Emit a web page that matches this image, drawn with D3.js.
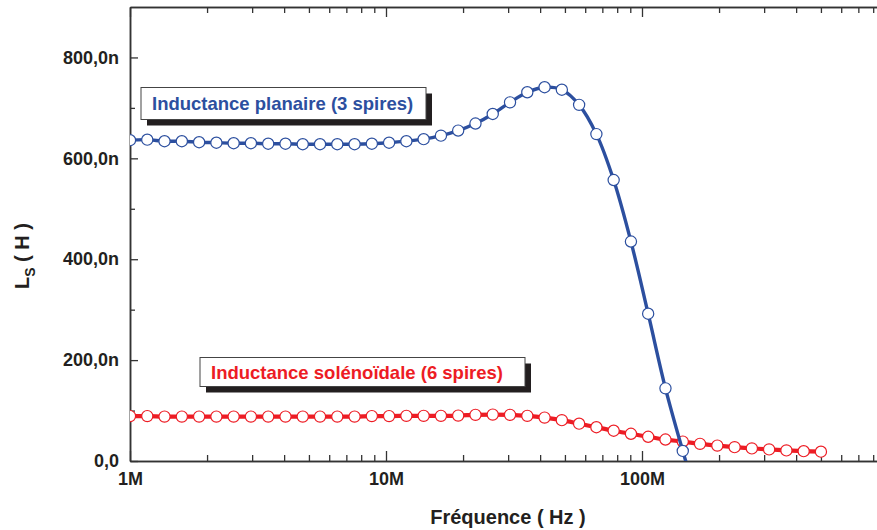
<!DOCTYPE html>
<html>
<head>
<meta charset="utf-8">
<script src="https://cdn.jsdelivr.net/npm/d3@7"></script>
<style>
  body { margin: 0; background: #fff; }
  svg { display: block; font-family: "Liberation Sans", Arial, sans-serif; font-weight: bold; }
</style>
</head>
<body>
<div id="chart"></div>
<script>
// frequency points (MHz), log spaced
const freqMHz = [1.000, 1.168, 1.364, 1.594, 1.862, 2.175, 2.540, 2.967, 3.466, 4.049,
  4.729, 5.524, 6.452, 7.537, 8.804, 10.28, 12.01, 14.03, 16.39, 19.14,
  22.36, 26.12, 30.51, 35.64, 41.63, 48.63, 56.80, 66.35, 77.50, 90.53,
  105.7, 123.5, 144.3, 168.5, 196.9, 230.0, 268.6, 313.7, 366.5, 428.1, 500.0];

// Ls in nH
const planaire = [636, 637, 634, 634, 632, 631, 630, 630, 629, 629,
  628, 628, 628, 628, 629, 631, 634, 638, 645, 655,
  669, 688, 711, 731, 741, 736, 706, 648, 557, 435,
  292, 144, 20, -95];
const solenoidale = [89, 89, 88, 88, 88, 88, 88, 88, 88, 88,
  88, 88, 88, 88, 89, 89, 89.5, 89.5, 89.5, 90,
  91.5, 92, 91.5, 89.5, 86, 81, 74, 67, 60, 54,
  48, 42.5, 38.5, 34, 30.5, 27.5, 25, 23, 21, 19.5, 18.5];

const xMajor = [1e6, 1e7, 1e8];
const xMajorLabels = ["1M", "10M", "100M"];
const yMajor = [0, 200, 400, 600, 800];
const yMinor = [100, 300, 500, 700];

const blue = "#2c4f9f", red = "#ed1c24", ink = "#231f20";

const width = 877, height = 530;
const margin = { left: 130, top: 7, bottom: 69 };
const plotRight = 898;

const svg = d3.select("#chart").append("svg")
  .attr("width", width).attr("height", height);

const x = d3.scaleLog().domain([1e6, 1e9]).range([margin.left, plotRight]);
const y = d3.scaleLinear().domain([0, 900]).range([height - margin.bottom, margin.top]);

// minor ticks 2..9 per decade
const xMinor = [];
[1e6, 1e7, 1e8].forEach(d => { for (let k = 2; k <= 9; k++) xMinor.push(k * d); });

svg.append("defs").append("clipPath").attr("id", "plot")
  .append("rect")
  .attr("x", margin.left).attr("y", margin.top)
  .attr("width", plotRight - margin.left)
  .attr("height", y(0) - margin.top);

// === axes ===
const styleAxis = g => {
  g.selectAll("path.domain").attr("stroke", "#333").attr("stroke-width", 1.5);
  g.selectAll(".tick line").attr("stroke", "#333").attr("stroke-width", 1.3);
  g.selectAll(".tick text").attr("fill", ink).style("font-size", "18px")
    .style("font-family", "'Liberation Sans', Arial, sans-serif").style("font-weight", "bold");
};

svg.append("g").attr("transform", `translate(0,${y(0)})`)
  .call(d3.axisBottom(x).tickValues(xMinor).tickSize(-6).tickSizeOuter(0).tickFormat(""))
  .call(styleAxis);
svg.append("g").attr("transform", `translate(0,${y(0)})`)
  .call(d3.axisBottom(x).tickValues(xMajor).tickSize(-10).tickSizeOuter(0).tickPadding(11)
    .tickFormat((d, i) => xMajorLabels[i]))
  .call(styleAxis);

svg.append("g").attr("transform", `translate(0,${margin.top})`)
  .call(d3.axisTop(x).tickValues(xMinor).tickSize(-6).tickSizeOuter(0).tickFormat(""))
  .call(styleAxis);
svg.append("g").attr("transform", `translate(0,${margin.top})`)
  .call(d3.axisTop(x).tickValues(xMajor).tickSize(-10).tickSizeOuter(0).tickFormat(""))
  .call(styleAxis);

svg.append("g").attr("transform", `translate(${margin.left},0)`)
  .call(d3.axisLeft(y).tickValues(yMinor).tickSize(-5).tickSizeOuter(0).tickFormat(""))
  .call(styleAxis);
svg.append("g").attr("transform", `translate(${margin.left},0)`)
  .call(d3.axisLeft(y).tickValues(yMajor).tickSize(-8).tickSizeOuter(0).tickPadding(11)
    .tickFormat(d => d === 0 ? "0,0" : d + ",0n"))
  .call(styleAxis);

// === series ===
const drawSeries = (vals, color, lw) => {
  const pts = vals.map((v, i) => ({ f: freqMHz[i] * 1e6, v }));
  const g = svg.append("g").attr("clip-path", "url(#plot)");
  g.append("path")
    .datum(pts)
    .attr("fill", "none")
    .attr("stroke", color)
    .attr("stroke-width", lw)
    .attr("d", d3.line().x(d => x(d.f)).y(d => y(d.v)).curve(d3.curveCatmullRom));
  g.selectAll("circle")
    .data(pts.filter(d => d.v >= 0))
    .enter()
    .append("circle")
    .attr("cx", d => x(d.f))
    .attr("cy", d => y(d.v))
    .attr("r", 5.6)
    .attr("fill", "#fff")
    .attr("stroke", color)
    .attr("stroke-width", 1.2);
};

drawSeries(solenoidale, red, 4.2);
drawSeries(planaire, blue, 3.4);

// === legend boxes ===
const label = (bx, by, bw, bh, txt, color) => {
  svg.append("rect").attr("x", bx + 6).attr("y", by + 6).attr("width", bw).attr("height", bh)
    .attr("fill", ink);
  svg.append("rect").attr("x", bx).attr("y", by).attr("width", bw).attr("height", bh)
    .attr("fill", "#fff").attr("stroke", "#444").attr("stroke-width", 1);
  svg.append("text").attr("x", bx + 11).attr("y", by + bh / 2).attr("dy", "0.36em")
    .attr("fill", color).style("font-size", "18.5px").text(txt);
};
label(141, 87.5, 285, 32, "Inductance planaire (3 spires)", blue);
label(200, 357.5, 325, 29, "Inductance solénoïdale (6 spires)", red);

// === axis titles ===
svg.append("text")
  .attr("x", 508).attr("y", 524)
  .attr("text-anchor", "middle")
  .attr("fill", ink).style("font-size", "20px")
  .text("Fréquence ( Hz )");

const yt = svg.append("text")
  .attr("transform", "translate(29,256) rotate(-90)")
  .attr("text-anchor", "middle")
  .attr("fill", ink).style("font-size", "20px");
yt.append("tspan").text("L");
yt.append("tspan").attr("dy", 6).style("font-size", "14px").text("S");
yt.append("tspan").attr("dy", -6).text(" ( H )");
</script>
</body>
</html>
